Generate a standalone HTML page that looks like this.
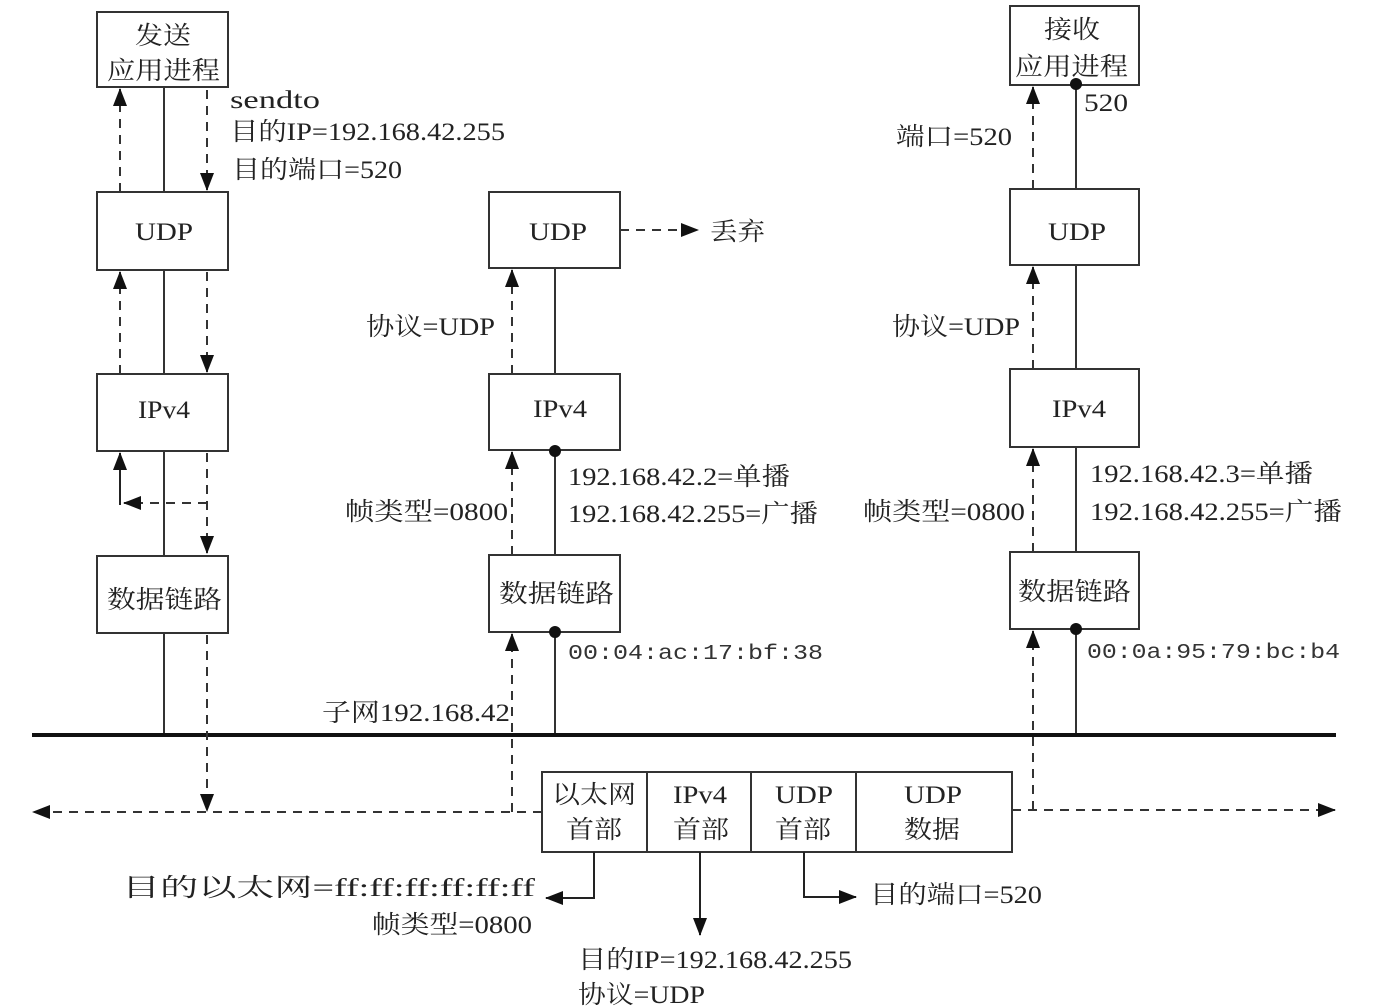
<!DOCTYPE html>
<html><head><meta charset="utf-8"><style>
html,body{margin:0;padding:0;background:#fff;}
svg{display:block;}
text{font-family:"Liberation Serif","Noto Serif CJK SC",serif;font-size:25px;fill:#222;}
.m{font-family:"Liberation Mono","Noto Sans CJK SC",monospace;font-size:21px;fill:#333;}
</style></head><body>
<svg width="1388" height="1006" viewBox="0 0 1388 1006" xmlns="http://www.w3.org/2000/svg">
<defs>
<marker id="b" markerWidth="18" markerHeight="14" refX="17" refY="7" orient="auto" markerUnits="userSpaceOnUse" viewBox="0 0 18 14"><path d="M0,0 L18,7 L0,14 z" fill="#111"/></marker>
</defs>
<g fill="none" stroke="#333" stroke-width="2">
<rect x="97" y="12" width="131" height="75"/>
<rect x="97" y="192" width="131" height="78"/>
<rect x="97" y="374" width="131" height="77"/>
<rect x="97" y="556" width="131" height="77"/>
<rect x="489" y="192" width="131" height="76"/>
<rect x="489" y="374" width="131" height="76"/>
<rect x="489" y="555" width="131" height="77"/>
<rect x="1010" y="6" width="129" height="79"/>
<rect x="1010" y="189" width="129" height="76"/>
<rect x="1010" y="369" width="129" height="78"/>
<rect x="1010" y="552" width="129" height="77"/>
<rect x="542" y="772" width="470" height="80"/>
<line x1="647" y1="772" x2="647" y2="852"/>
<line x1="751" y1="772" x2="751" y2="852"/>
<line x1="856" y1="772" x2="856" y2="852"/>
<line x1="164" y1="87" x2="164" y2="192"/>
<line x1="164" y1="270" x2="164" y2="374"/>
<line x1="164" y1="451" x2="164" y2="556"/>
<line x1="164" y1="633" x2="164" y2="737"/>
<line x1="555" y1="268" x2="555" y2="374"/>
<line x1="555" y1="450" x2="555" y2="555"/>
<line x1="555" y1="632" x2="555" y2="737"/>
<line x1="1076" y1="85" x2="1076" y2="189"/>
<line x1="1076" y1="265" x2="1076" y2="369"/>
<line x1="1076" y1="447" x2="1076" y2="552"/>
<line x1="1076" y1="629" x2="1076" y2="737"/>
</g>
<line x1="32" y1="735" x2="1336" y2="735" stroke="#111" stroke-width="4"/>
<g fill="none" stroke="#333" stroke-width="2" stroke-dasharray="9,7">
<line x1="207" y1="90" x2="207" y2="190" marker-end="url(#b)"/>
<line x1="207" y1="272" x2="207" y2="372" marker-end="url(#b)"/>
<line x1="207" y1="453" x2="207" y2="553" marker-end="url(#b)"/>
<line x1="207" y1="635" x2="207" y2="811" marker-end="url(#b)"/>
<line x1="120" y1="192" x2="120" y2="89" marker-end="url(#b)"/>
<line x1="120" y1="374" x2="120" y2="272" marker-end="url(#b)"/>
<line x1="207" y1="503" x2="124" y2="503" marker-end="url(#b)"/>
<line x1="542" y1="812" x2="33" y2="812" marker-end="url(#b)"/>
<line x1="1012" y1="810" x2="1335" y2="810" marker-end="url(#b)"/>
<line x1="512" y1="812" x2="512" y2="634" marker-end="url(#b)"/>
<line x1="512" y1="555" x2="512" y2="452" marker-end="url(#b)"/>
<line x1="512" y1="374" x2="512" y2="270" marker-end="url(#b)"/>
<line x1="620" y1="230" x2="698" y2="230" marker-end="url(#b)"/>
<line x1="1033" y1="810" x2="1033" y2="631" marker-end="url(#b)"/>
<line x1="1033" y1="552" x2="1033" y2="449" marker-end="url(#b)"/>
<line x1="1033" y1="369" x2="1033" y2="267" marker-end="url(#b)"/>
<line x1="1033" y1="189" x2="1033" y2="87" marker-end="url(#b)"/>
</g>
<g fill="none" stroke="#222" stroke-width="2">
<polyline points="120,505 120,453" marker-end="url(#b)"/>
<polyline points="594,852 594,898 546,898" marker-end="url(#b)"/>
<line x1="700" y1="852" x2="700" y2="935" marker-end="url(#b)"/>
<polyline points="804,852 804,897 856,897" marker-end="url(#b)"/>
</g>
<g fill="#111">
<circle cx="555" cy="451" r="6"/>
<circle cx="555" cy="632" r="6"/>
<circle cx="1076" cy="84" r="6"/>
<circle cx="1076" cy="629" r="6"/>
</g>
<g lengthAdjust="spacingAndGlyphs">
<text x="135" y="44" textLength="56" lengthAdjust="spacingAndGlyphs">发送</text>
<text x="107" y="79" textLength="113" lengthAdjust="spacingAndGlyphs">应用进程</text>
<text x="135" y="240" textLength="58" lengthAdjust="spacingAndGlyphs">UDP</text>
<text x="138" y="418" textLength="52" lengthAdjust="spacingAndGlyphs">IPv4</text>
<text x="107" y="608" textLength="115" lengthAdjust="spacingAndGlyphs">数据链路</text>
<text x="529" y="240" textLength="58" lengthAdjust="spacingAndGlyphs">UDP</text>
<text x="533" y="417" textLength="54" lengthAdjust="spacingAndGlyphs">IPv4</text>
<text x="499" y="602" textLength="115" lengthAdjust="spacingAndGlyphs">数据链路</text>
<text x="1044" y="38" textLength="56" lengthAdjust="spacingAndGlyphs">接收</text>
<text x="1015" y="75" textLength="113" lengthAdjust="spacingAndGlyphs">应用进程</text>
<text x="1048" y="240" textLength="58" lengthAdjust="spacingAndGlyphs">UDP</text>
<text x="1052" y="417" textLength="54" lengthAdjust="spacingAndGlyphs">IPv4</text>
<text x="1018" y="600" textLength="113" lengthAdjust="spacingAndGlyphs">数据链路</text>
<text x="552" y="803" textLength="84" lengthAdjust="spacingAndGlyphs">以太网</text>
<text x="566" y="838" textLength="56" lengthAdjust="spacingAndGlyphs">首部</text>
<text x="673" y="803" textLength="54" lengthAdjust="spacingAndGlyphs">IPv4</text>
<text x="673" y="838" textLength="56" lengthAdjust="spacingAndGlyphs">首部</text>
<text x="775" y="803" textLength="58" lengthAdjust="spacingAndGlyphs">UDP</text>
<text x="775" y="838" textLength="56" lengthAdjust="spacingAndGlyphs">首部</text>
<text x="904" y="803" textLength="58" lengthAdjust="spacingAndGlyphs">UDP</text>
<text x="904" y="838" textLength="56" lengthAdjust="spacingAndGlyphs">数据</text>

<text x="230" y="108" textLength="90" lengthAdjust="spacingAndGlyphs">sendto</text>
<text x="230" y="140" textLength="275" lengthAdjust="spacingAndGlyphs">目的IP=192.168.42.255</text>
<text x="232" y="178" textLength="170" lengthAdjust="spacingAndGlyphs">目的端口=520</text>
<text x="710" y="240" textLength="55" lengthAdjust="spacingAndGlyphs">丢弃</text>
<text x="1084" y="111" textLength="44" lengthAdjust="spacingAndGlyphs">520</text>
<text x="896" y="145" textLength="116" lengthAdjust="spacingAndGlyphs">端口=520</text>
<text x="366" y="335" textLength="129" lengthAdjust="spacingAndGlyphs">协议=UDP</text>
<text x="892" y="335" textLength="128" lengthAdjust="spacingAndGlyphs">协议=UDP</text>
<text x="345" y="520" textLength="163" lengthAdjust="spacingAndGlyphs">帧类型=0800</text>
<text x="863" y="520" textLength="162" lengthAdjust="spacingAndGlyphs">帧类型=0800</text>
<text x="322" y="721" textLength="188" lengthAdjust="spacingAndGlyphs">子网192.168.42</text>
<text x="122" y="896" textLength="413" lengthAdjust="spacingAndGlyphs">目的以太网=ff:ff:ff:ff:ff:ff</text>
<text x="372" y="933" textLength="160" lengthAdjust="spacingAndGlyphs">帧类型=0800</text>
<text x="568" y="485" textLength="222" lengthAdjust="spacingAndGlyphs">192.168.42.2=单播</text>
<text x="568" y="522" textLength="250" lengthAdjust="spacingAndGlyphs">192.168.42.255=广播</text>
<text x="1090" y="482" textLength="223" lengthAdjust="spacingAndGlyphs">192.168.42.3=单播</text>
<text x="1090" y="520" textLength="252" lengthAdjust="spacingAndGlyphs">192.168.42.255=广播</text>
<text class="m" x="568" y="659" textLength="255" lengthAdjust="spacingAndGlyphs">00:04:ac:17:bf:38</text>
<text class="m" x="1087" y="658" textLength="253" lengthAdjust="spacingAndGlyphs">00:0a:95:79:bc:b4</text>
<text x="870" y="903" textLength="172" lengthAdjust="spacingAndGlyphs">目的端口=520</text>
<text x="578" y="968" textLength="274" lengthAdjust="spacingAndGlyphs">目的IP=192.168.42.255</text>
<text x="578" y="1003" textLength="127" lengthAdjust="spacingAndGlyphs">协议=UDP</text>
</g>
</svg>
</body></html>
